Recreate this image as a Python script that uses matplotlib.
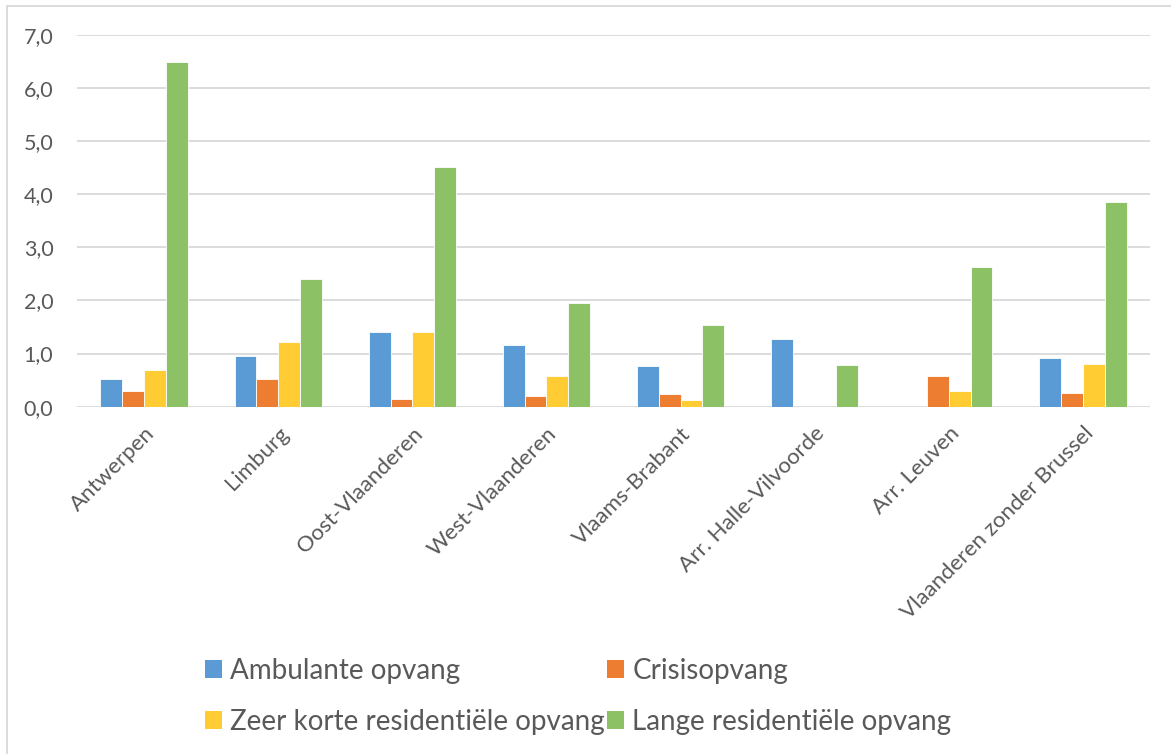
import matplotlib
matplotlib.use("Agg")
import matplotlib.pyplot as plt
import numpy as np
from matplotlib.ticker import FuncFormatter
from matplotlib.patches import Rectangle, Patch

categories = ["Antwerpen", "Limburg", "Oost-Vlaanderen", "West-Vlaanderen",
              "Vlaams-Brabant", "Arr. Halle-Vilvoorde", "Arr. Leuven",
              "Vlaanderen zonder Brussel"]
ambulante = [0.52, 0.95, 1.41, 1.16, 0.77, 1.28, 0.0, 0.92]
crisis = [0.30, 0.52, 0.145, 0.20, 0.24, 0.0, 0.58, 0.26]
zeer_kort = [0.69, 1.21, 1.41, 0.58, 0.126, 0.0, 0.30, 0.80]
lange = [6.49, 2.41, 4.51, 1.95, 1.53, 0.785, 2.63, 3.86]
series_names = ["Ambulante opvang", "Crisisopvang",
                "Zeer korte residentiële opvang", "Lange residentiële opvang"]
colors = ["#5B9BD5", "#ED7D31", "#FFCC33", "#8DC166"]

plt.rcParams['font.family'] = ['Lato', 'DejaVu Sans']
txt = "#595959"

fig = plt.figure(figsize=(11.71, 7.54), dpi=100)
ax = fig.add_axes([77/1171, 1-406.7/754, (1150-77)/1171, (406.7-34.7)/754])

x = np.arange(len(categories))
w = 0.1625
data = [ambulante, crisis, zeer_kort, lange]
for i, (vals, c) in enumerate(zip(data, colors)):
    ax.bar(x + (i - 1.5) * w, vals, width=w, color=c, edgecolor="white",
           linewidth=0.6, zorder=3)

ax.set_xlim(-0.5, len(categories) - 0.5)
ax.set_ylim(0, 7)
ax.set_yticks(np.arange(0, 8, 1))
ax.yaxis.set_major_formatter(FuncFormatter(lambda v, p: f"{v:.1f}".replace(".", ",")))
ax.grid(axis="y", color="#D9D9D9", linewidth=1.3, zorder=0)
for s in ax.spines.values():
    s.set_visible(False)
ax.tick_params(axis="both", length=0, colors=txt, labelsize=15.5)
ax.tick_params(axis="y", pad=17)
ax.set_xticks(x)
ax.set_xticklabels(categories, rotation=45, ha="right", rotation_mode="anchor",
                   fontsize=16, color=txt)
ax.tick_params(axis="x", pad=12)

# row-wise legend order for 2 columns (matplotlib fills column-wise)
order = [0, 2, 1, 3]
handles = [Patch(facecolor=colors[i], edgecolor="none") for i in order]
labels = [series_names[i] for i in order]
fig.legend(handles, labels, loc="upper left", ncol=2,
           bbox_to_anchor=(205/1171, 1-658/754), frameon=False,
           fontsize=20, labelcolor=txt, handlelength=0.6, handleheight=0.6,
           handletextpad=0.3, columnspacing=0.1, labelspacing=0.9,
           borderaxespad=0, borderpad=0)

fig.add_artist(Rectangle((7/1171, -0.01), 1.0, 1-6/754 + 0.01, transform=fig.transFigure,
                         fill=False, edgecolor="#D9D9D9", linewidth=1.3))

fig.savefig("out.png", dpi=100)
